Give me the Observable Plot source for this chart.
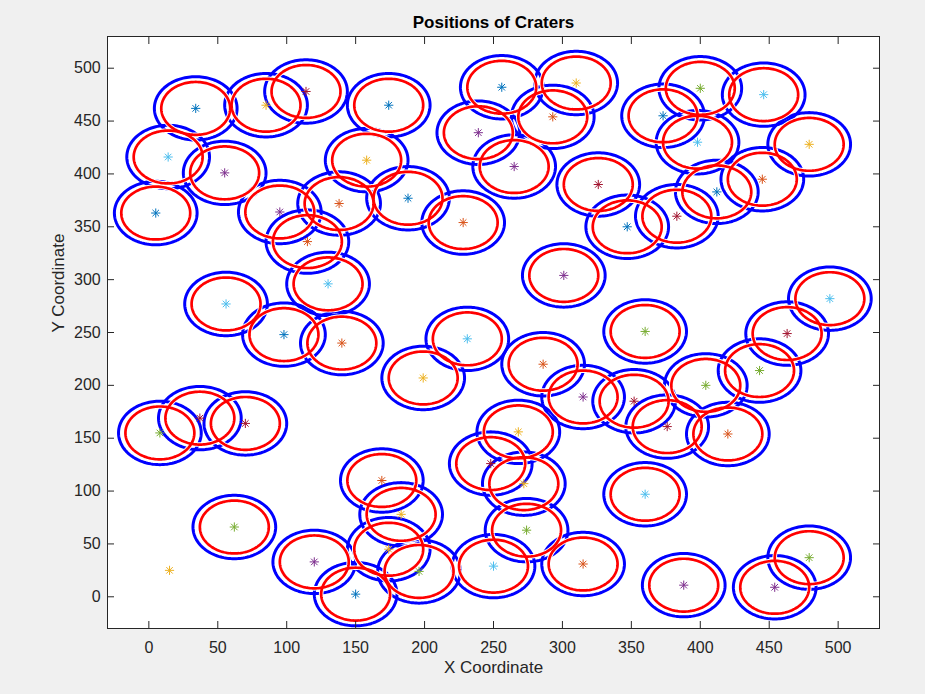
<!DOCTYPE html>
<html>
<head>
<meta charset="utf-8">
<script src="https://cdn.jsdelivr.net/npm/d3@7"></script>
<script src="https://cdn.jsdelivr.net/npm/@observablehq/plot@0.6"></script>
<style>
  html, body { margin: 0; padding: 0; background: #f0f0f0; }
  #chart { position: absolute; left: 0; top: 0; }
</style>
</head>
<body>
<div id="chart"></div>
<script>
// ---- Data ----
const craterX = [34, 85, 114, 174, 256, 310, 400, 446,
  14, 55, 158, 239, 293, 265, 373, 398, 479,
  5, 95, 138, 188, 228, 326, 347, 383, 412, 445,
  115, 130, 301, 56, 98, 140, 231, 360, 463, 494,
  199, 286, 315, 352, 404, 443, 376, 420,
  8, 37, 70, 268, 248, 272, 360,
  169, 183, 62, 15, 120, 150, 174, 196, 250, 274, 315, 388, 454, 479];
const craterY = [462, 465, 478, 465, 482, 486, 481, 475,
  416, 401, 413, 439, 454, 407, 455, 430, 428,
  363, 364, 372, 377, 354, 390, 350, 360, 383, 395,
  336, 296, 304, 277, 248, 240, 244, 251, 249, 282,
  207, 220, 189, 185, 200, 214, 161, 154,
  155, 169, 164, 156, 126, 107, 97,
  110, 78, 66, 25, 33, 2.5, 45, 24, 29, 63, 31, 11, 9, 37];
// index into the MATLAB default colour order
const craterColor = [0, 2, 6, 0, 0, 2, 4, 5,
  5, 3, 2, 3, 1, 3, 0, 5, 2,
  0, 3, 1, 0, 1, 6, 0, 6, 0, 1,
  1, 5, 3, 5, 0, 1, 5, 4, 6, 5,
  2, 1, 3, 6, 4, 4, 6, 1,
  4, 6, 6, 2, 6, 2, 5,
  1, 2, 4, 2, 3, 0, 2, 4, 5, 4, 1, 3, 3, 4];
// 1 = crater has its two rings drawn
const ringed = [1, 1, 1, 1, 1, 1, 1, 1,
  1, 1, 1, 1, 1, 1, 1, 1, 1,
  1, 1, 1, 1, 1, 1, 1, 1, 1, 1,
  1, 1, 1, 1, 1, 1, 1, 1, 1, 1,
  1, 1, 1, 1, 1, 1, 1, 1,
  1, 1, 1, 1, 1, 1, 1,
  1, 1, 1, 0, 1, 1, 1, 1, 1, 1, 1, 1, 1, 1];
const colorOrder = ["#0072BD", "#D95319", "#EDB120", "#7E2F8E", "#77AC30", "#4DBEEE", "#A2142F"];
const innerRadius = 25;   // red ring
const outerRadius = 30;   // blue ring
const xTicks = [0, 50, 100, 150, 200, 250, 300, 350, 400, 450, 500];
const yTicks = [0, 50, 100, 150, 200, 250, 300, 350, 400, 450, 500];
const titleText = "Positions of Craters";
const xLabel = "X Coordinate";
const yLabel = "Y Coordinate";

// ---- Derived tables ----
const craters = craterX.map((x, i) => ({
  id: i, x, y: craterY[i], color: colorOrder[craterColor[i]], ringed: ringed[i] === 1
}));
function ringPoints(r) {
  const pts = [];
  const n = 144;
  craters.filter(c => c.ringed).forEach(c => {
    for (let k = 0; k <= n; k++) {
      const t = 2 * Math.PI * k / n;
      pts.push({ id: c.id, x: c.x + r * Math.cos(t), y: c.y + r * Math.sin(t) });
    }
  });
  return pts;
}
const blueRing = ringPoints(outerRadius);
const redRing = ringPoints(innerRadius);

// MATLAB-style '*' marker (plus + cross)
const asterisk = {
  draw(ctx, size) {
    const r = Math.sqrt(size / Math.PI);
    const d = r * Math.SQRT1_2;
    ctx.moveTo(-r, 0); ctx.lineTo(r, 0);
    ctx.moveTo(0, -r); ctx.lineTo(0, r);
    ctx.moveTo(-d, -d); ctx.lineTo(d, d);
    ctx.moveTo(-d, d); ctx.lineTo(d, -d);
  }
};

const chart = Plot.plot({
  width: 925,
  height: 694,
  marginLeft: 107,
  marginRight: 46,
  marginTop: 36,
  marginBottom: 66,
  x: { domain: [-30, 530], label: null },
  y: { domain: [-30, 530], label: null },
  style: {
    background: "#f0f0f0",
    fontFamily: "'Liberation Sans', Arial, Helvetica, sans-serif",
    fontSize: "16px",
    color: "#262626",
    overflow: "visible"
  },
  marks: [
    Plot.frame({ fill: "white", stroke: "none" }),
    Plot.line(blueRing, { x: "x", y: "y", z: "id", stroke: "white", strokeWidth: 5, clip: true }),
    Plot.line(blueRing, { x: "x", y: "y", z: "id", stroke: "#0000FF", strokeWidth: 3, clip: true }),
    Plot.line(redRing, { x: "x", y: "y", z: "id", stroke: "white", strokeWidth: 4.6, clip: true }),
    Plot.line(redRing, { x: "x", y: "y", z: "id", stroke: "#FF0000", strokeWidth: 2.7, clip: true }),
    Plot.dot(craters, { x: "x", y: "y", stroke: "color", fill: "none", symbol: asterisk, r: 4.6, strokeWidth: 1 }),
    Plot.frame({ stroke: "#262626", strokeWidth: 1 }),
    Plot.axisX(xTicks, { anchor: "bottom", tickSize: -7, tickPadding: 19.7, label: null, stroke: "#262626", fill: "#262626" }),
    Plot.axisX(xTicks, { anchor: "top", tickSize: -7, label: null, stroke: "#262626", fill: "none" }),
    Plot.axisY(yTicks, { anchor: "left", tickSize: -7, tickPadding: 13.8, label: null, stroke: "#262626", fill: "#262626" }),
    Plot.axisY(yTicks, { anchor: "right", tickSize: -7, label: null, stroke: "#262626", fill: "none" }),
    Plot.text([titleText], { text: d => d, frameAnchor: "top", lineAnchor: "middle", dy: -14, fontWeight: "bold", fontSize: 17, fill: "#000000" }),
    Plot.text([xLabel], { text: d => d, frameAnchor: "bottom", lineAnchor: "middle", dy: 38.7, fontSize: 17, fill: "#262626" }),
    Plot.text([yLabel], { text: d => d, frameAnchor: "left", lineAnchor: "middle", dx: -48.8, rotate: -90, fontSize: 17, fill: "#262626" })
  ]
});
document.getElementById("chart").appendChild(chart);
</script>
</body>
</html>
